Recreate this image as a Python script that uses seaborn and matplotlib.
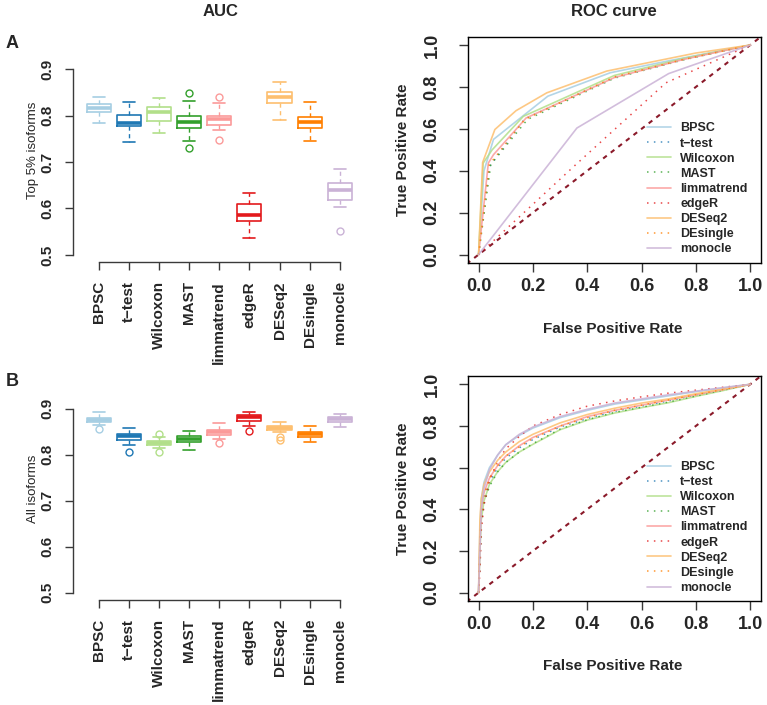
import numpy as np
import pandas as pd
import matplotlib
matplotlib.use("Agg")
import matplotlib.pyplot as plt
import seaborn as sns

sns.set_style("white")
plt.rcParams['font.family'] = ['Liberation Sans', 'DejaVu Sans']

# ---------------- data ----------------
methods = ["BPSC", "t\u2212test", "Wilcoxon", "MAST", "limmatrend",
           "edgeR", "DESeq2", "DEsingle", "monocle"]
colors = ["#A6CEE3", "#1F78B4", "#B2DF8A", "#33A02C", "#FB9A99",
          "#E31A1C", "#FDBF6F", "#FF7F00", "#CAB2D6"]
styles = ["solid", "dotted", "solid", "dotted", "solid",
          "dotted", "solid", "dotted", "solid"]

# AUC samples, top 5% isoforms
top_BPSC = [.784, .790, .807, .812, .817, .820, .824, .832, .840]
top_ttest = [.743, .760, .778, .781, .784, .795, .802, .815, .829]
top_Wilcoxon = [.763, .775, .789, .800, .807, .812, .818, .828, .837]
top_MAST = [.730, .746, .773, .780, .787, .793, .800, .831, .848]
top_limmatrend = [.748, .769, .780, .786, .792, .796, .800, .828, .840]
top_edgeR = [.536, .555, .574, .580, .586, .598, .610, .622, .634]
top_DESeq2 = [.791, .808, .826, .833, .840, .845, .850, .862, .873]
top_DEsingle = [.746, .760, .774, .780, .786, .792, .797, .814, .830]
top_monocle = [.552, .603, .618, .628, .639, .646, .654, .670, .685]

# AUC samples, all isoforms
all_BPSC = [.856, .864, .871, .874, .876, .878, .880, .886, .892]
all_ttest = [.805, .820, .831, .836, .840, .843, .846, .852, .858]
all_Wilcoxon = [.805, .815, .820, .823, .825, .827, .829, .838, .845]
all_MAST = [.811, .819, .827, .831, .835, .838, .841, .846, .851]
all_limmatrend = [.825, .835, .843, .846, .849, .852, .854, .862, .869]
all_edgeR = [.851, .862, .874, .878, .882, .884, .886, .890, .893]
all_DESeq2 = [.832, .838, .849, .853, .855, .856, .858, .859, .860, .862, .866, .871, .871]
all_DEsingle = [.828, .833, .838, .841, .844, .847, .850, .857, .863]
all_monocle = [.861, .866, .871, .874, .877, .880, .882, .885, .888]

# ROC curves, top 5% isoforms (vertices)
rocA_x = {
    "BPSC": [0, .02, .055, .255, .485, .70, 1],
    "t\u2212test": [0, .04, .17, .5, .75, 1],
    "Wilcoxon": [0, .017, .05, .165, .5, .75, 1],
    "MAST": [0, .045, .18, .5, .75, 1],
    "limmatrend": [0, .036, .055, .175, .5, .75, 1],
    "edgeR": [0, .35, .69, 1],
    "DESeq2": [0, .015, .06, .138, .251, .472, .80, 1],
    "DEsingle": [0, .04, .17, .5, .75, 1],
    "monocle": [0, .362, .70, 1],
}
rocA_y = {
    "BPSC": [0, .40, .55, .756, .868, .925, 1],
    "t\u2212test": [0, .42, .648, .845, .93, 1],
    "Wilcoxon": [0, .437, .50, .66, .855, .935, 1],
    "MAST": [0, .43, .645, .842, .928, 1],
    "limmatrend": [0, .437, .477, .652, .845, .93, 1],
    "edgeR": [0, .42, .82, 1],
    "DESeq2": [0, .44, .597, .687, .772, .876, .962, 1],
    "DEsingle": [0, .43, .645, .848, .93, 1],
    "monocle": [0, .604, .864, 1],
}

# ROC curves, all isoforms (sampled on a common FPR grid)
rocB_fpr = [0, .005, .01, .02, .04, .07, .1, .15, .2, .3, .4, .5, .6, .7, .8, .9, 1]
rocB_tpr = {
    "BPSC": [0, .30, .45, .53, .60, .66, .71, .755, .79, .84, .875, .905, .925, .945, .965, .983, 1],
    "t\u2212test": [0, .15, .35, .45, .53, .60, .645, .695, .735, .795, .835, .87, .895, .92, .948, .974, 1],
    "Wilcoxon": [0, .20, .35, .44, .52, .58, .625, .675, .712, .782, .828, .862, .888, .912, .942, .970, 1],
    "MAST": [0, .15, .33, .43, .51, .58, .625, .675, .715, .785, .83, .865, .89, .915, .944, .972, 1],
    "limmatrend": [0, .25, .40, .48, .55, .61, .655, .705, .745, .80, .845, .875, .90, .925, .95, .975, 1],
    "edgeR": [0, .10, .30, .42, .54, .63, .69, .75, .80, .855, .895, .92, .94, .958, .972, .986, 1],
    "DESeq2": [0, .35, .45, .52, .58, .635, .675, .725, .76, .815, .855, .885, .91, .93, .955, .978, 1],
    "DEsingle": [0, .20, .38, .47, .55, .61, .655, .70, .74, .80, .84, .875, .90, .925, .95, .975, 1],
    "monocle": [0, .20, .40, .50, .59, .66, .71, .76, .795, .845, .88, .91, .93, .95, .967, .984, 1],
}

top_vals = [top_BPSC, top_ttest, top_Wilcoxon, top_MAST, top_limmatrend,
            top_edgeR, top_DESeq2, top_DEsingle, top_monocle]
all_vals = [all_BPSC, all_ttest, all_Wilcoxon, all_MAST, all_limmatrend,
            all_edgeR, all_DESeq2, all_DEsingle, all_monocle]

# ---------------- figure ----------------
W, H = 767, 705
fig = plt.figure(figsize=(W / 100, H / 100), dpi=100)


def px_axes(left, top, right, bottom):
    return fig.add_axes([left / W, 1 - bottom / H, (right - left) / W, (bottom - top) / H])


axis_col = "#3a3a3a"


def draw_box(ax, vals, ylabel):
    rows = [(m, v) for m, vs in zip(methods, vals) for v in vs]
    df = pd.DataFrame(rows, columns=["method", "auc"])
    sns.boxplot(data=df, x="method", y="auc", hue="method", order=methods,
                hue_order=methods, palette=colors, fill=False, legend=False,
                width=0.8, saturation=1, linewidth=1.2, whis=1.5, fliersize=5,
                whiskerprops=dict(linestyle=(0, (3, 2.5)), linewidth=1.0),
                medianprops=dict(linewidth=2.6),
                flierprops=dict(marker="o", markerfacecolor="none", markeredgewidth=1.0),
                ax=ax)
    ax.set_xlim(-0.86, 8.86)
    ax.set_ylim(0.484, 0.916)
    for s in ["top", "right"]:
        ax.spines[s].set_visible(False)
    for s in ["left", "bottom"]:
        ax.spines[s].set_color(axis_col)
        ax.spines[s].set_linewidth(1.0)
    ax.spines["left"].set_bounds(0.5, 0.9)
    ax.spines["bottom"].set_bounds(0, 8)
    ax.set_yticks([0.5, 0.6, 0.7, 0.8, 0.9])
    ax.set_yticklabels(["0.5", "0.6", "0.7", "0.8", "0.9"], rotation=90,
                       va="center", fontweight="bold", fontsize=11)
    ax.set_xticks(range(9))
    ax.set_xticklabels(methods, rotation=90, fontweight="bold", fontsize=11)
    ax.tick_params(axis="both", which="major", direction="out", length=5.5,
                   width=1.0, color=axis_col, left=True, bottom=True)
    ax.tick_params(axis="y", pad=8)
    ax.tick_params(axis="x", pad=8)
    ax.set_xlabel("")
    ax.set_ylabel(ylabel, fontsize=9.5)
    ax.yaxis.set_label_coords(-0.115, 0.56)
    ax.grid(False)


def draw_roc(ax, curves):
    ax.plot([-0.1, 1.1], [-0.1, 1.1], color="#8B1A2A", lw=1.5, dashes=(2.2, 2.4))
    for m, c, st in zip(methods, colors, styles):
        xs, ys = curves[m]
        if st == "solid":
            sns.lineplot(x=xs, y=ys, ax=ax, color=c, lw=1.2, alpha=0.85,
                         sort=False, estimator=None, label=m)
        else:
            sns.lineplot(x=xs, y=ys, ax=ax, color=c, lw=1.1, alpha=0.8,
                         dashes=False, sort=False, estimator=None, label=m,
                         linestyle=(0, (1, 3.5)))
    ax.set_xlim(-0.04, 1.04)
    ax.set_ylim(-0.04, 1.04)
    for s in ax.spines.values():
        s.set_visible(True)
        s.set_color("black")
        s.set_linewidth(1.0)
    ticks = [0, 0.2, 0.4, 0.6, 0.8, 1.0]
    tl = ["0.0", "0.2", "0.4", "0.6", "0.8", "1.0"]
    ax.set_xticks(ticks)
    ax.set_xticklabels(tl, fontweight="bold", fontsize=13)
    ax.set_yticks(ticks)
    ax.set_yticklabels(tl, fontweight="bold", fontsize=13, rotation=90, va="center")
    ax.tick_params(axis="both", direction="out", length=6.5, width=1.0,
                   color=axis_col, left=True, bottom=True)
    ax.tick_params(axis="y", pad=13)
    ax.tick_params(axis="x", pad=4.5)
    ax.set_xlabel("False Positive Rate", fontweight="bold", fontsize=11)
    ax.set_ylabel("True Positive Rate", fontweight="bold", fontsize=11)
    ax.xaxis.set_label_coords(0.495, -0.26)
    ax.yaxis.set_label_coords(-0.197, 0.5)
    h, l = ax.get_legend_handles_labels()
    ax.legend(h, l, loc="center left", bbox_to_anchor=(0.611, 0.327),
              frameon=False, prop={"weight": "bold", "size": 9},
              handlelength=1.9, handletextpad=0.75, labelspacing=0.25,
              borderaxespad=0, borderpad=0)
    ax.grid(False)


axA = px_axes(73, 61.6, 365.6, 262.4)
draw_box(axA, top_vals, "Top 5% isoforms")
axB = px_axes(73, 401.3, 365.6, 600.1)
draw_box(axB, all_vals, "All isoforms")

rocA = {m: (rocA_x[m], rocA_y[m]) for m in methods}
rocB = {m: (rocB_fpr, rocB_tpr[m]) for m in methods}
axC = px_axes(467.7, 36.7, 761, 263)
draw_roc(axC, rocA)
axD = px_axes(467.7, 376, 761, 601)
draw_roc(axD, rocB)

fig.text(221 / W, 1 - 12 / H, "AUC", ha="center", va="center", fontweight="bold", fontsize=12)
fig.text(614 / W, 1 - 12 / H, "ROC curve", ha="center", va="center", fontweight="bold", fontsize=12)
fig.text(6 / W, 1 - 44 / H, "A", ha="left", va="center", fontweight="bold", fontsize=13)
fig.text(6 / W, 1 - 381 / H, "B", ha="left", va="center", fontweight="bold", fontsize=13)

fig.savefig("out.png", dpi=100)
